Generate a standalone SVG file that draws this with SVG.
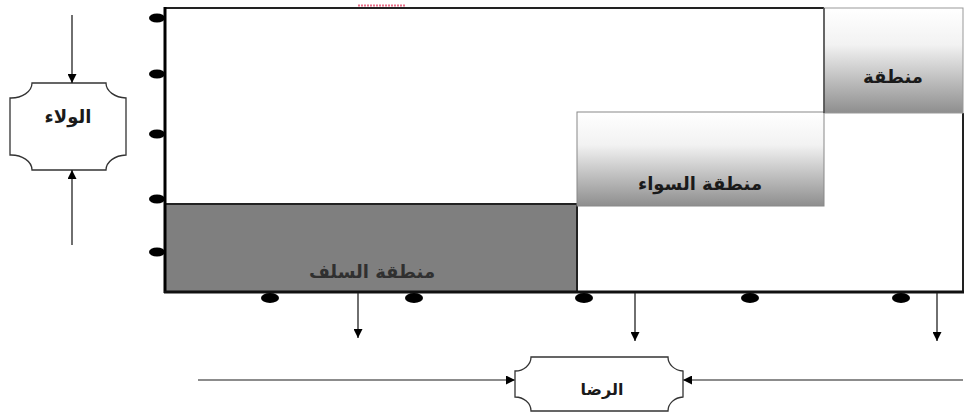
<svg xmlns="http://www.w3.org/2000/svg" width="966" height="413" viewBox="0 0 966 413">
<style>
.lbl{font-family:"DejaVu Sans",sans-serif;font-weight:bold;font-size:18px;fill:#1a1a1a;text-anchor:middle}
.dim{fill:#303030}
.conn{stroke:#222;stroke-width:1.3;fill:none;marker-end:url(#ah)}
.hconn{stroke:#666;stroke-width:1.6;fill:none;marker-end:url(#ah)}
.tick{fill:#000}
.plaque{fill:#fff;stroke:#333;stroke-width:1.3}
</style>
<defs>
<marker id="ah" viewBox="0 0 10 10" refX="10" refY="5" markerWidth="9" markerHeight="9" markerUnits="userSpaceOnUse" orient="auto">
<path d="M0,0 L10,5 L0,10 z" fill="#000"/>
</marker>
<linearGradient id="g1" x1="0" y1="0" x2="0" y2="1">
<stop offset="0" stop-color="#ffffff"/>
<stop offset="0.35" stop-color="#f2f2f2"/>
<stop offset="1" stop-color="#8e8e8e"/>
</linearGradient>
</defs>
<rect width="966" height="413" fill="#fff"/>

<g id="frame">
<rect x="165" y="8" width="798" height="284" fill="#fff" stroke="none"/>
<line x1="165" y1="8" x2="824" y2="8" stroke="#222" stroke-width="2"/>
<line x1="963" y1="113" x2="963" y2="292" stroke="#222" stroke-width="2"/>
</g>

<g id="zone-salaf">
<rect x="165" y="204" width="412" height="88" fill="#7f7f7f" stroke="#222" stroke-width="2"/>
<text class="lbl dim" x="372" y="278">منطقة السلف</text>
</g>

<g id="zone-sawa">
<rect x="577" y="112" width="247" height="94" fill="url(#g1)" stroke="#888" stroke-width="1"/>
<text class="lbl" x="700" y="190">منطقة السواء</text>
</g>

<g id="zone-top">
<rect x="824" y="8" width="139" height="105" fill="url(#g1)" stroke="#999" stroke-width="1"/>
<line x1="824" y1="8" x2="824" y2="113" stroke="#444" stroke-width="1.5"/>
<text class="lbl" x="893" y="83">منطقة</text>
</g>

<g id="axes">
<line x1="165" y1="7" x2="165" y2="293" stroke="#000" stroke-width="3"/>
<line x1="164" y1="292" x2="964" y2="292" stroke="#111" stroke-width="3"/>
<ellipse class="tick" cx="157" cy="18" rx="8" ry="4.5"/>
<ellipse class="tick" cx="157" cy="74" rx="8" ry="4.5"/>
<ellipse class="tick" cx="157" cy="134" rx="8" ry="4.5"/>
<ellipse class="tick" cx="157" cy="199" rx="8" ry="4.5"/>
<ellipse class="tick" cx="157" cy="252" rx="8" ry="4.5"/>
<ellipse class="tick" cx="270" cy="298" rx="9" ry="5"/>
<ellipse class="tick" cx="414" cy="298" rx="9" ry="5"/>
<ellipse class="tick" cx="584" cy="298" rx="9" ry="5"/>
<ellipse class="tick" cx="750" cy="298" rx="9" ry="5"/>
<ellipse class="tick" cx="901" cy="298" rx="9" ry="5"/>
<line x1="358" y1="5.5" x2="405" y2="5.5" stroke="#e8708a" stroke-width="2" stroke-dasharray="2 1"/>
</g>

<g id="wala">
<path class="plaque" d="M32,83 L106,83 A21,15 0 0 0 126,98 L126,155 A21,15 0 0 0 106,170 L32,170 A21,15 0 0 0 10,155 L10,98 A21,15 0 0 0 32,83 Z"/>
<text class="lbl" x="68" y="123">الولاء</text>
</g>

<g id="rida">
<path class="plaque" d="M531,357 L668,357 A16,14 0 0 0 683,371 L683,397 A16,14 0 0 0 668,411 L531,411 A16,14 0 0 0 515,397 L515,371 A16,14 0 0 0 531,357 Z"/>
<text class="lbl" x="602" y="395" style="font-size:16px">الرضا</text>
</g>

<g id="connectors">
<line class="conn" x1="72" y1="15" x2="72" y2="83"/>
<line class="conn" x1="72" y1="245" x2="72" y2="170"/>
<line class="conn" x1="358" y1="293" x2="358" y2="338"/>
<line class="conn" x1="635" y1="293" x2="635" y2="341"/>
<line class="conn" x1="937" y1="293" x2="937" y2="341"/>
<line class="hconn" x1="198" y1="380" x2="515" y2="380"/>
<line class="hconn" x1="963" y1="380" x2="683" y2="380"/>
</g>
</svg>
